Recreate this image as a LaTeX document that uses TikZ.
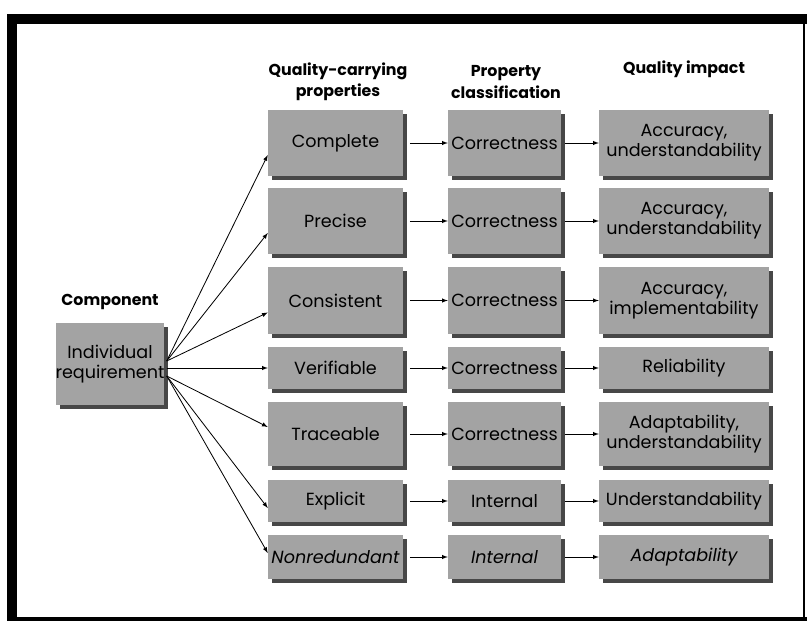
\documentclass[tikz,border=0pt]{standalone}
\usepackage{fontspec}
\setmainfont{Poppins}
\usepackage{tikz}
\usetikzlibrary{shadows}
\usetikzlibrary{positioning}
\usetikzlibrary{arrows,shapes}
\usetikzlibrary{calc}

\begin{document}
\begin{tikzpicture}[x=0.03cm, y=-0.03cm, auto, swap,
  box/.style={fill=black!36, inner sep=0pt, align=center,
    font=\fontsize{15}{17}\selectfont,
    drop shadow={shadow xshift=0.12cm, shadow yshift=-0.12cm, fill=black!72, opacity=1}},
  col1/.style={box, minimum width=4.05cm},
  col2/.style={box, minimum width=3.39cm},
  col3/.style={box, minimum width=5.1cm},
  heads/.style={align=center, font=\bfseries\fontsize{13.5}{18}\selectfont},
  conn/.style={draw, -latex, line width=0.7pt}]
 \useasboundingbox (0,0) rectangle (807,621);

 %frame
 \draw[line width=0.3cm] (12,621) -- (12,19) -- (807,19);
 \draw[line width=0.18cm] (7,620) -- (807,620);
 \draw[line width=0.06cm] (804,19) -- (804,620);

 %heads
 \node[heads] (h0) at (110,302) {Component};
 \node[heads] (h1) at (338,82) {Quality-carrying\\properties};
 \node[heads] (h2) at (506,82) {Property\\classification};
 \node[heads] (h3) at (684,69) {Quality impact};

 %component
 \node[box, minimum width=3.24cm, minimum height=2.46cm] (comp) at (110,364) {Individual\\requirement};

 %properties
 \node[col1, minimum height=1.98cm] (p1) at (335.5,143) {Complete};
 \node[col1, minimum height=1.98cm] (p2) at (335.5,221) {Precise};
 \node[col1, minimum height=2.01cm] (p3) at (335.5,300.5) {Consistent};
 \node[col1, minimum height=1.26cm] (p4) at (335.5,368) {Verifiable};
 \node[col1, minimum height=1.92cm] (p5) at (335.5,434) {Traceable};
 \node[col1, minimum height=1.26cm] (p6) at (335.5,501) {Explicit};
 \node[col1, minimum height=1.32cm] (p7) at (335.5,557) {\itshape Nonredundant};

 %classification
 \node[col2, minimum height=1.98cm] (k1) at (504.5,143) {Correctness};
 \node[col2, minimum height=1.98cm] (k2) at (504.5,221) {Correctness};
 \node[col2, minimum height=2.01cm] (k3) at (504.5,300.5) {Correctness};
 \node[col2, minimum height=1.26cm] (k4) at (504.5,368) {Correctness};
 \node[col2, minimum height=1.92cm] (k5) at (504.5,434) {Correctness};
 \node[col2, minimum height=1.26cm] (k6) at (504.5,501) {Internal};
 \node[col2, minimum height=1.32cm] (k7) at (504.5,557) {\itshape Internal};

 %impact
 \node[col3, minimum height=1.98cm] (q1) at (684,143) {Accuracy,\\understandability};
 \node[col3, minimum height=1.98cm] (q2) at (684,221) {Accuracy,\\understandability};
 \node[col3, minimum height=2.01cm] (q3) at (684,300.5) {Accuracy,\\implementability};
 \node[col3, minimum height=1.26cm] (q4) at (684,368) {Reliability};
 \node[col3, minimum height=1.92cm] (q5) at (684,434) {Adaptability,\\understandability};
 \node[col3, minimum height=1.26cm] (q6) at (684,501) {Understandability};
 \node[col3, minimum height=1.32cm] (q7) at (684,557) {\itshape Adaptability};

 %fan
 \path[conn] ($(comp.east)+(2,-3)$) -- ($(p1.west)+(0,12)$);
 \path[conn] ($(comp.east)+(2,-3)$) -- ($(p2.west)+(0,12)$);
 \path[conn] ($(comp.east)+(2,-3)$) -- ($(p3.west)+(0,12)$);
 \path[conn] ($(comp.east)+(2,4)$) -- (p4.west);
 \path[conn] ($(comp.east)+(2,12)$) -- ($(p5.west)+(0,-7)$);
 \path[conn] ($(comp.east)+(2,12)$) -- ($(p6.west)+(0,7)$);
 \path[conn] ($(comp.east)+(2,12)$) -- ($(p7.west)+(0,-4)$);

 %rows
 \foreach \i in {1,...,7}{
   \path[conn, shorten <=0.2cm] (p\i.east) -- (k\i.west);
   \path[conn, shorten <=0.12cm] (k\i.east) -- (q\i.west);
 }
\end{tikzpicture}
\end{document}
